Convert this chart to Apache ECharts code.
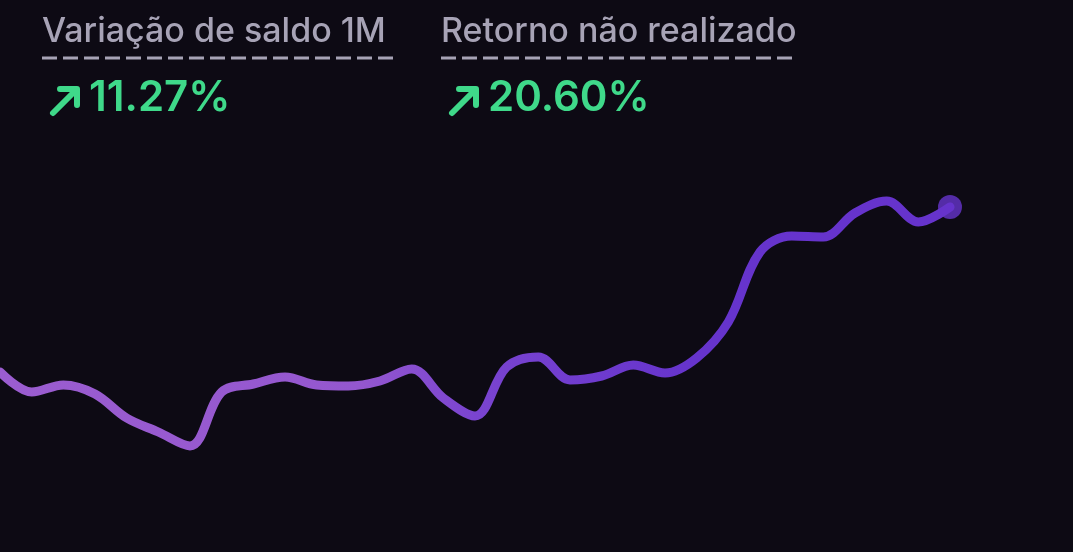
<!DOCTYPE html>
<html>
<head>
<meta charset="utf-8">
<script src="https://cdn.jsdelivr.net/npm/echarts@6/dist/echarts.min.js"></script>
<style>
html,body{margin:0;padding:0;background:#0d0a14;}
#c{width:1073px;height:552px;}
</style>
</head>
<body>
<div id="c"></div>
<script>
const days = ['1','2','3','4','5','6','7','8','9','10','11','12','13','14','15','16','17','18','19','20','21','22','23','24','25','26','27','28','29','30','31'];
const balance = [128, 108, 115, 106, 82, 68, 54, 108, 116, 123, 115, 114, 119, 131, 102, 84, 133, 143, 120, 124, 135, 127, 142, 178, 248, 264, 263, 287, 299, 278, 293];
const metricLabels = ['Variação de saldo 1M', 'Retorno não realizado'];
const metricValues = ['11.27%', '20.60%'];

const chart = echarts.init(document.getElementById('c'));
const last = balance.length - 1;
const titleColor = '#a7a3b6';
const green = '#3fd98a';
const font = 'Inter, "Noto Sans", sans-serif';

function metricBlock(x, label, value) {
  return [
    { type: 'text', left: x, top: 15, style: { text: label, font: '500 34px ' + font, fill: titleColor } },
    { type: 'line', shape: { x1: x, y1: 58, x2: x + 351, y2: 58 }, style: { stroke: titleColor, lineWidth: 3, lineDash: [15, 6] } },
    { type: 'polyline', shape: { points: [[x + 11, 113], [x + 34, 90]] }, style: { stroke: green, lineWidth: 6, lineCap: 'round' } },
    { type: 'polyline', shape: { points: [[x + 18, 89], [x + 35, 89], [x + 35, 105]] }, style: { stroke: green, lineWidth: 6, lineCap: 'round', lineJoin: 'round', fill: null } },
    { type: 'text', left: x + 47, top: 77, style: { text: value, font: '600 42px ' + font, fill: green } }
  ];
}

chart.setOption({
  backgroundColor: '#0d0a14',
  animation: false,
  grid: { left: 0, right: 123, top: 150, bottom: 52 },
  xAxis: { type: 'category', data: days, boundaryGap: false, show: false },
  yAxis: { type: 'value', min: 0, max: 350, show: false },
  graphic: [].concat(metricBlock(42, metricLabels[0], metricValues[0]), metricBlock(441, metricLabels[1], metricValues[1])),
  series: [
    {
      type: 'line',
      data: balance,
      smooth: 0.35,
      showSymbol: false,
      lineStyle: {
        width: 9,
        cap: 'round',
        join: 'round',
        color: {
          type: 'linear', x: 0, y: 0, x2: 1, y2: 0,
          colorStops: [
            { offset: 0, color: '#9b5dd0' },
            { offset: 0.38, color: '#9457cf' },
            { offset: 0.5, color: '#7a44d0' },
            { offset: 0.72, color: '#6634cc' },
            { offset: 1, color: '#6633cc' }
          ]
        }
      }
    },
    {
      type: 'scatter',
      data: [[last, balance[last]]],
      symbolSize: 24,
      itemStyle: { color: '#6634cc' }
    }
  ]
});
</script>
</body>
</html>
